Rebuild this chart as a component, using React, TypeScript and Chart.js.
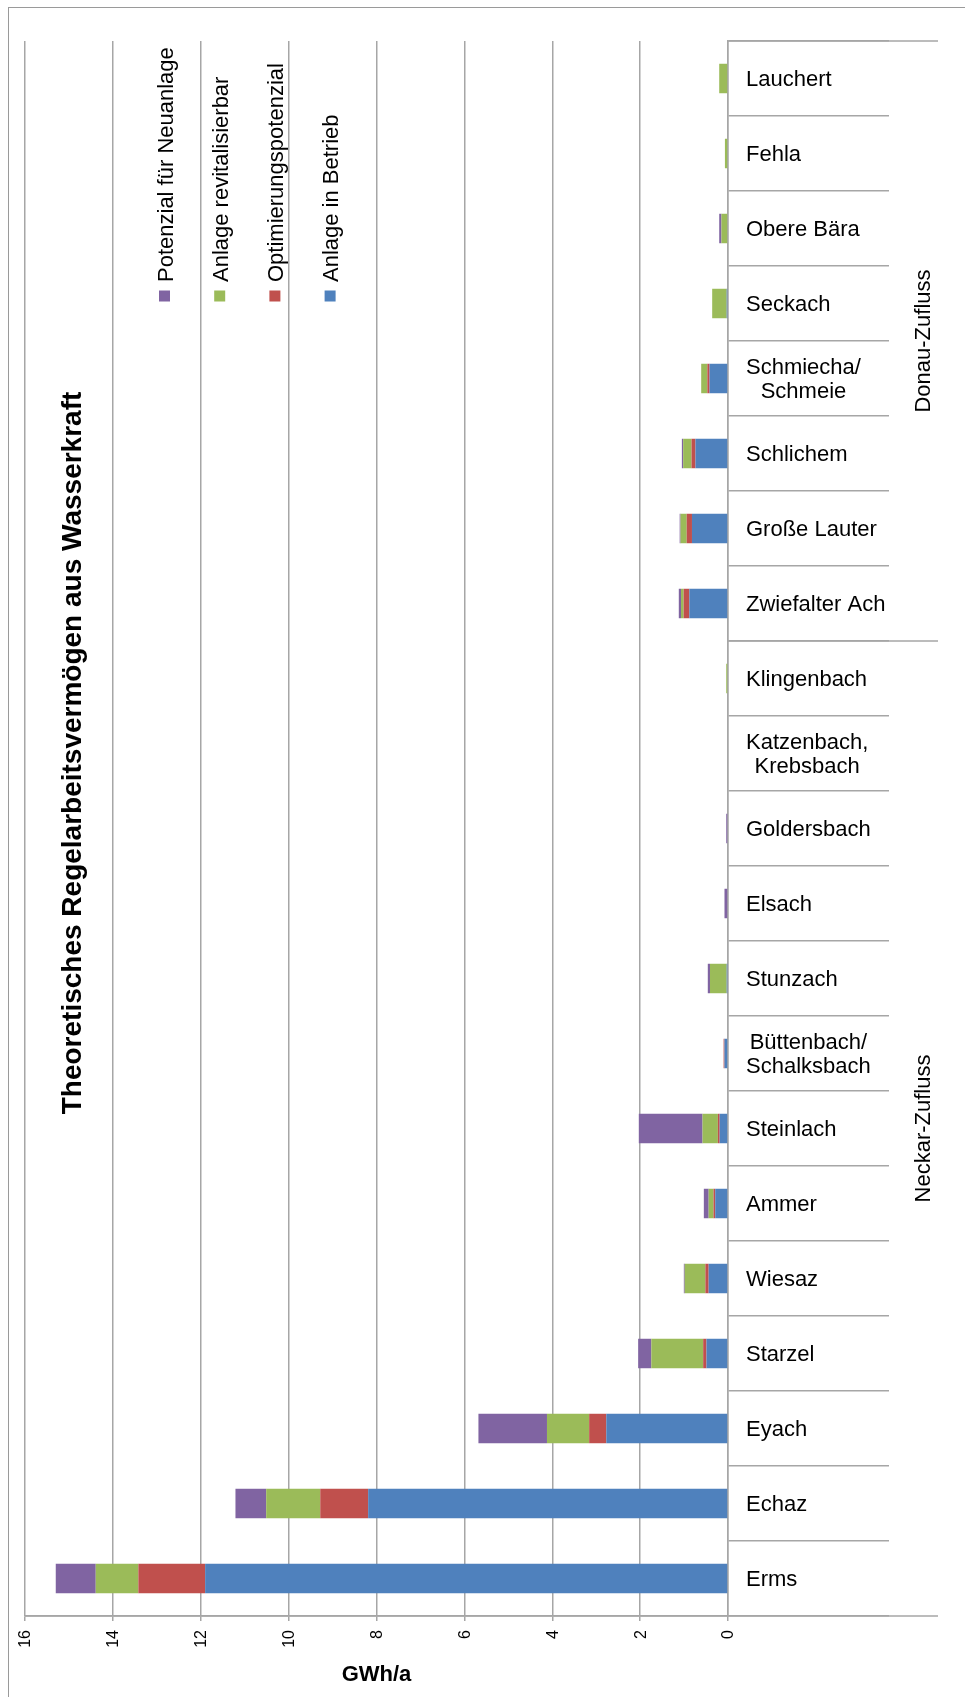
import React, { useEffect, useRef } from 'react';
import { Chart, registerables } from 'chart.js';

Chart.register(...registerables);

// ---- data (top to bottom as in the picture) ----
const categories: (string | string[])[] = [
  'Lauchert', 'Fehla', 'Obere Bära', 'Seckach', ['Schmiecha/', 'Schmeie'], 'Schlichem',
  'Große Lauter', 'Zwiefalter Ach', 'Klingenbach', ['Katzenbach,', 'Krebsbach'], 'Goldersbach',
  'Elsach', 'Stunzach', ['Büttenbach/', 'Schalksbach'], 'Steinlach', 'Ammer', 'Wiesaz',
  'Starzel', 'Eyach', 'Echaz', 'Erms',
];

const anlageInBetrieb = [0, 0, 0, 0.03, 0.42, 0.74, 0.82, 0.88, 0, 0, 0, 0, 0.03, 0.08, 0.19, 0.29, 0.44, 0.49, 2.77, 8.19, 11.9];
const optimierungspotenzial = [0, 0, 0, 0, 0.05, 0.09, 0.12, 0.13, 0, 0, 0, 0, 0, 0.02, 0.04, 0.04, 0.075, 0.075, 0.39, 1.09, 1.52];
const anlageRevitalisierbar = [0.2, 0.07, 0.15, 0.33, 0.14, 0.19, 0.14, 0.06, 0.04, 0, 0, 0, 0.38, 0, 0.35, 0.11, 0.47, 1.18, 0.96, 1.23, 0.97];
const potenzialNeuanlage = [0, 0, 0.05, 0, 0, 0.03, 0.02, 0.05, 0, 0, 0.04, 0.08, 0.05, 0, 1.45, 0.11, 0.02, 0.3, 1.56, 0.7, 0.91];

const seriesNames = ['Anlage in Betrieb', 'Optimierungspotenzial', 'Anlage revitalisierbar', 'Potenzial für Neuanlage'];
const seriesColors = ['#4F81BD', '#C0504D', '#9BBB59', '#8064A2'];

const groupNames = ['Donau-Zufluss', 'Neckar-Zufluss'];
const groupStart = [0, 8];
const groupEnd = [7, 20];

const valueMin = 0;
const valueMax = 16;
const valueStep = 2;

const titleText = 'Theoretisches Regelarbeitsvermögen aus Wasserkraft';
const axisTitle = 'GWh/a';

const FONT = '"Liberation Sans", Arial, Helvetica, sans-serif';
const GRID = '#a6a6a6';

function rotText(ctx: CanvasRenderingContext2D, text: string, x: number, y: number, font: string,
  align: CanvasTextAlign, baseline: CanvasTextBaseline, maxW?: number) {
  ctx.save();
  ctx.translate(x, y);
  ctx.rotate(-Math.PI / 2);
  ctx.font = font;
  ctx.textAlign = align;
  ctx.textBaseline = baseline;
  ctx.fillStyle = '#000';
  if (maxW) ctx.fillText(text, 0, 0, maxW); else ctx.fillText(text, 0, 0);
  ctx.restore();
}

const decorPlugin = {
  id: 'decor',
  afterDraw(chart: any) {
    const ctx: CanvasRenderingContext2D = chart.ctx;
    const xs = chart.scales.x;
    const ys = chart.scales.y;
    const area = chart.chartArea;

    // outer frame
    ctx.save();
    ctx.strokeStyle = '#9a9a9a';
    ctx.lineWidth = 1;
    ctx.strokeRect(8.5, 7.5, 2000, 3000);
    ctx.restore();

    // chart title (rotated)
    rotText(ctx, titleText, 73, 753, `bold 28px ${FONT}`, 'center', 'middle', 733);

    // legend (reverse order of datasets), rotated
    const n = chart.data.datasets.length;
    for (let k = 0; k < n; k++) {
      const ds = chart.data.datasets[n - 1 - k];
      const cx = 164.5 + k * 55.2;
      ctx.fillStyle = ds.backgroundColor;
      ctx.fillRect(cx - 5.5, 290.5, 11, 11);
      rotText(ctx, ds.label, cx + 8, 282, `22px ${FONT}`, 'left', 'alphabetic');
    }

    // value tick labels (rotated)
    xs.ticks.forEach((t: any) => {
      const px = xs.getPixelForValue(t.value);
      rotText(ctx, String(t.value), px + 1, 1630, `16px ${FONT}`, 'right', 'middle');
    });

    // category labels
    ctx.save();
    ctx.fillStyle = '#000';
    ctx.font = `22px ${FONT}`;
    ctx.textBaseline = 'middle';
    ctx.textAlign = 'center';
    const labelLeft = area.right + 18;
    categories.forEach((lab, i) => {
      const cy = ys.getPixelForValue(i);
      const lines = Array.isArray(lab) ? lab : [lab];
      const w = Math.max(...lines.map((l) => ctx.measureText(l).width));
      const cxl = labelLeft + w / 2;
      const lh = 24;
      lines.forEach((l, j) => {
        ctx.fillText(l, cxl, cy + 1 + (j - (lines.length - 1) / 2) * lh);
      });
    });
    ctx.restore();

    // group separators and labels
    const half = (ys.getPixelForValue(1) - ys.getPixelForValue(0)) / 2;
    ctx.save();
    ctx.strokeStyle = GRID;
    ctx.lineWidth = 1.5;
    const outer = 938;
    const edges: number[] = [];
    groupNames.forEach((g, gi) => {
      const top = ys.getPixelForValue(groupStart[gi]) - half;
      const bot = ys.getPixelForValue(groupEnd[gi]) + half;
      edges.push(top, bot);
      rotText(ctx, g, 924, (top + bot) / 2, `22px ${FONT}`, 'center', 'middle');
    });
    ctx.beginPath();
    edges.forEach((e) => {
      ctx.moveTo(area.right, e);
      ctx.lineTo(outer, e);
    });
    ctx.moveTo(area.left, area.bottom);
    ctx.lineTo(outer, area.bottom);
    ctx.stroke();
    ctx.restore();
  },
};

export default function App() {
  const ref = useRef<HTMLCanvasElement | null>(null);

  useEffect(() => {
    if (!ref.current) return;
    const series = [anlageInBetrieb, optimierungspotenzial, anlageRevitalisierbar, potenzialNeuanlage];
    const chart = new Chart(ref.current, {
      type: 'bar',
      data: {
        labels: categories as any,
        datasets: series.map((d, i) => ({
          label: seriesNames[i],
          data: d,
          backgroundColor: seriesColors[i],
          borderWidth: 0,
          barPercentage: 0.393,
          categoryPercentage: 1,
        })),
      },
      options: {
        indexAxis: 'y',
        responsive: false,
        animation: false,
        layout: { padding: { left: 25, top: 41, right: 0, bottom: 0 } },
        plugins: {
          legend: { display: false },
          tooltip: { enabled: false },
          title: { display: false },
        },
        scales: {
          x: {
            type: 'linear',
            reverse: true,
            stacked: true,
            min: valueMin,
            max: valueMax,
            ticks: { stepSize: valueStep, display: false },
            grid: { color: GRID, lineWidth: 1.5, tickLength: 5 },
            border: { display: true, color: GRID, width: 1.5 },
            title: {
              display: true,
              text: axisTitle,
              color: '#000',
              font: { family: FONT, size: 22, weight: 'bold' },
              padding: { top: 0, bottom: 9 },
            },
            afterFit: (s: any) => { s.height = 81; },
          },
          y: {
            type: 'category',
            position: 'right',
            stacked: true,
            offset: true,
            ticks: { display: false },
            grid: { offset: true, drawOnChartArea: false, tickLength: 161, color: GRID, lineWidth: 1.5 },
            border: { display: true, color: GRID, width: 1.5 },
            afterFit: (s: any) => { s.width = 237; },
          },
        },
      } as any,
      plugins: [decorPlugin],
    });
    return () => chart.destroy();
  }, []);

  return (
    <div style={{ position: 'absolute', left: 0, top: 0, width: 965, height: 1697, background: '#fff' }}>
      <canvas ref={ref} width={965} height={1697} style={{ display: 'block' }} />
    </div>
  );
}
